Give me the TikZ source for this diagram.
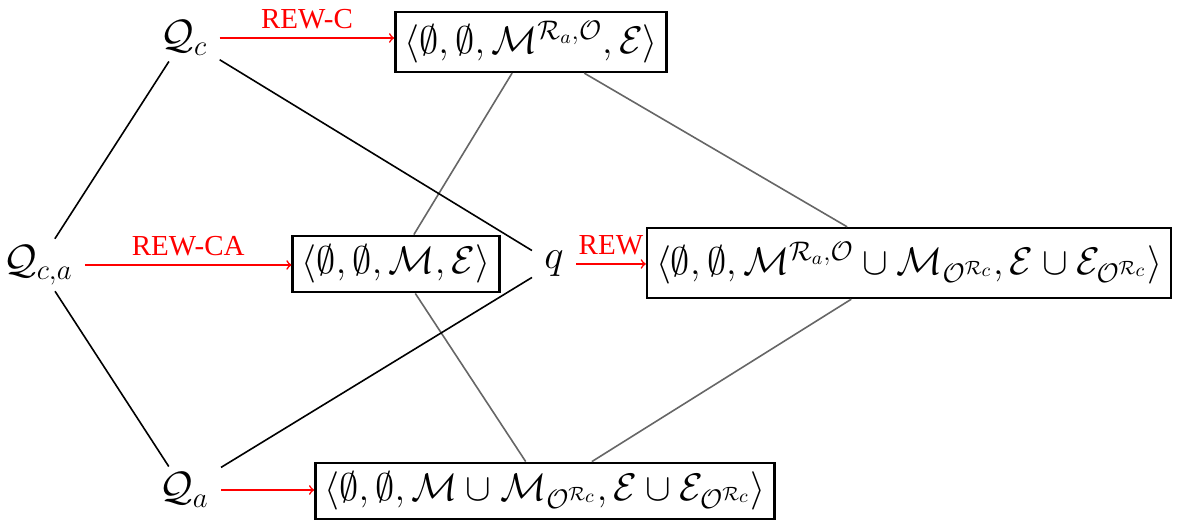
\RequirePackage{fix-cm}
\documentclass[tikz,border=0pt]{standalone}
\usepackage[no-math]{fontspec}
\setmainfont{Liberation Serif}

\begin{document}
\begin{tikzpicture}[x=0.5pt,y=-0.5pt,>=to,
    font=\fontsize{20.5}{24}\selectfont,
    term/.style={inner xsep=6pt,inner ysep=3pt},
    state/.style={draw,very thick,font=\fontsize{19.2}{23}\selectfont,
        inner xsep=4.5pt,inner ysep=4.5pt},
    rew/.style={->,red,thick},
    rewlab/.style={font=\fontsize{14.5}{16}\selectfont,text=red,inner sep=4pt},
    link/.style={thick},
    sublink/.style={thick,black!60}]
    \useasboundingbox (0,0) rectangle (1184,522);

    % queries
    \node[term] (Qca) at (38,265) {$\mathcal{Q}_{c,a}$};
    \node[term] (Qc) at (184,38) {$\mathcal{Q}_{c}$};
    \node[term] (Qa) at (184,490) {$\mathcal{Q}_{a}$};
    \node[term] (q) at (554,264) {$q$};

    % rewritten tuples
    \node[state] (sMRO) at (531,42)
        {$\langle\emptyset,\emptyset,\mathcal{M}^{\mathcal{R}_a,\mathcal{O}},\mathcal{E}\rangle$};
    \node[state] (sM) at (396,264)
        {$\langle\emptyset,\emptyset,\mathcal{M},\mathcal{E}\rangle$};
    \node[state,minimum height=35pt] (sAll) at (909,263)
        {$\langle\emptyset,\emptyset,\mathcal{M}^{\mathcal{R}_a,\mathcal{O}}\cup\mathcal{M}_{\mathcal{O}^{\mathcal{R}_c}},\mathcal{E}\cup\mathcal{E}_{\mathcal{O}^{\mathcal{R}_c}}\rangle$};
    \node[state] (sMOR) at (545,491)
        {$\langle\emptyset,\emptyset,\mathcal{M}\cup\mathcal{M}_{\mathcal{O}^{\mathcal{R}_c}},\mathcal{E}\cup\mathcal{E}_{\mathcal{O}^{\mathcal{R}_c}}\rangle$};

    \draw[sublink] (sMRO) -- (sM);
    \draw[sublink] (sMRO) -- (sAll);
    \draw[sublink] (sM) -- (sMOR);
    \draw[sublink] (sAll) -- (sMOR);

    \draw[link] (Qca) -- (Qc);
    \draw[link] (Qca) -- (Qa);
    \draw[link] (Qc) -- (q);
    \draw[link] (Qa) -- (q);

    \draw[rew] (Qc.east) -- (Qc.east -| sMRO.west)
        node[midway,above,rewlab] {REW-C};
    \draw[rew] (Qca.east) -- (Qca.east -| sM.west)
        node[midway,above,rewlab] {REW-CA};
    \draw[rew] (q.east) -- (q.east -| sAll.west)
        node[midway,above,rewlab] {REW};
    \draw[rew] (Qa.east) -- (Qa.east -| sMOR.west);
\end{tikzpicture}
\end{document}
